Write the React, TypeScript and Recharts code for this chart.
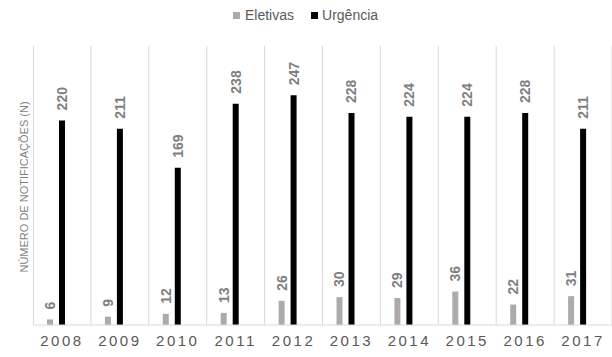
import { Bar, BarChart, CartesianGrid, LabelList, Rectangle, XAxis, YAxis } from "recharts";

const YEARS = ["2008", "2009", "2010", "2011", "2012", "2013", "2014", "2015", "2016", "2017"];
const ELETIVAS = [6, 9, 12, 13, 26, 30, 29, 36, 22, 31];
const URGENCIA = [220, 211, 169, 238, 247, 228, 224, 224, 228, 211];
const SERIES_NAMES = ["Eletivas", "Urgência"];

const FONT = "'Liberation Sans', Arial, sans-serif";
const GREY = "#aeaaaa";
const BLACK = "#000000";
const LABEL_COLOR = "#808080";
const GRID = "#d9d9d9";
// Excel-style group sits a bit left of the category center
const SHIFT = -6;

const data = YEARS.map((year, i) => ({
  year,
  eletivas: ELETIVAS[i],
  urgencia: URGENCIA[i],
}));

const ShiftedBar = (props: any) => <Rectangle {...props} x={props.x + SHIFT} />;

const rotatedLabel = (props: any) => {
  const { x, y, width, value } = props;
  const cx = x + width / 2 + SHIFT;
  const cy = y - 10;
  return (
    <text
      x={cx}
      y={cy}
      transform={`rotate(-90 ${cx} ${cy})`}
      textAnchor="start"
      dominantBaseline="central"
      fill={LABEL_COLOR}
      fontSize={14}
      fontWeight="bold"
      fontFamily={FONT}
    >
      {value}
    </text>
  );
};

export default function App() {
  return (
    <div
      style={{
        position: "absolute",
        left: 0,
        top: 0,
        width: 612,
        height: 357,
        background: "#fff",
        fontFamily: FONT,
      }}
    >
      {/* legend */}
      <div style={{ position: "absolute", top: 7, left: 233, display: "flex", alignItems: "center", fontSize: 14, color: "#595959" }}>
        <span style={{ width: 7, height: 7, background: GREY, display: "inline-block", marginRight: 5 }} />
        <span>{SERIES_NAMES[0]}</span>
        <span style={{ width: 7, height: 7, background: BLACK, display: "inline-block", marginLeft: 17, marginRight: 4 }} />
        <span>{SERIES_NAMES[1]}</span>
      </div>
      {/* y axis title */}
      <div
        style={{
          position: "absolute",
          left: 24,
          top: 187,
          transform: "translate(-50%, -50%) rotate(-90deg)",
          whiteSpace: "nowrap",
          fontSize: 11,
          color: "#7f7f7f",
        }}
      >
        NÚMERO DE NOTIFICAÇÕES (N)
      </div>
      <BarChart
        width={612}
        height={357}
        data={data}
        margin={{ top: 46, right: 0, bottom: 0, left: 33 }}
        barSize={6}
        barGap={6}
        style={{ fontFamily: FONT }}
      >
        <CartesianGrid
          horizontal={false}
          stroke={GRID}
          verticalCoordinatesGenerator={({ offset }: any) =>
            YEARS.map((_, i) => offset.left + (i + 1) * (offset.width / YEARS.length))
          }
        />
        <XAxis
          dataKey="year"
          height={32}
          axisLine={{ stroke: GRID }}
          tickLine={false}
          tick={{ fill: "#595959", fontSize: 15, letterSpacing: 2.5, fontFamily: FONT }}
          tickMargin={4}
        />
        <YAxis hide domain={[0, 300]} />
        <Bar dataKey="eletivas" fill={GREY} shape={ShiftedBar} isAnimationActive={false}>
          <LabelList dataKey="eletivas" content={rotatedLabel} />
        </Bar>
        <Bar dataKey="urgencia" fill={BLACK} shape={ShiftedBar} isAnimationActive={false}>
          <LabelList dataKey="urgencia" content={rotatedLabel} />
        </Bar>
      </BarChart>
      <div style={{ position: "absolute", left: 33, top: 46, width: 1, height: 279, background: GRID }} />
    </div>
  );
}
